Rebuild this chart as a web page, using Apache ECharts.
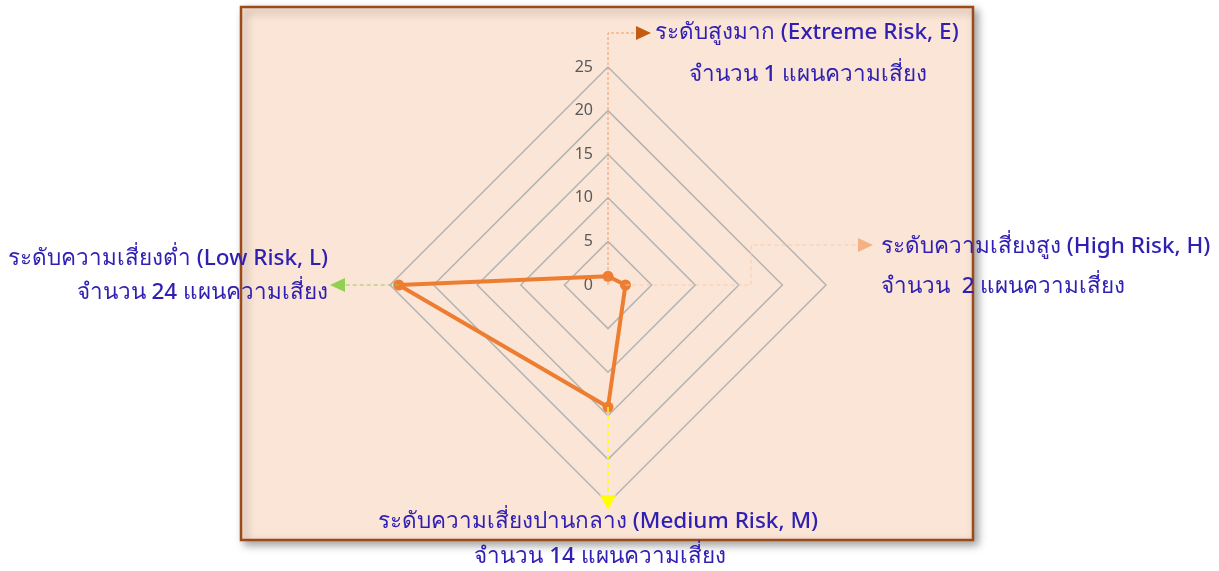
<!DOCTYPE html>
<html>
<head>
<meta charset="utf-8">
<script src="https://cdn.jsdelivr.net/npm/echarts@6/dist/echarts.min.js"></script>
<style>
html,body{margin:0;padding:0;background:#fff;}
#c{width:1219px;height:571px;}
</style>
</head>
<body>
<div id="c"></div>
<script>
// Data
const indicatorNames = ['ระดับสูงมาก (Extreme Risk, E)', 'ระดับความเสี่ยงต่ำ (Low Risk, L)', 'ระดับความเสี่ยงปานกลาง (Medium Risk, M)', 'ระดับความเสี่ยงสูง (High Risk, H)'];
const countLabels = ['จำนวน 1 แผนความเสี่ยง', 'จำนวน 24 แผนความเสี่ยง', 'จำนวน 14 แผนความเสี่ยง', 'จำนวน  2 แผนความเสี่ยง'];
const riskValues = [1, 24, 14, 2];
const axisMax = 25;
const axisSplits = 5;

const CX = 608, CY = 285, R = 218;
const TXT = '#2F1FB3';
const FONT = '"Noto Sans", "DejaVu Sans", sans-serif';

function r(v){ return v / axisMax * R; }

const chart = echarts.init(document.getElementById('c'), null, {renderer: 'canvas'});

const tri = (pts, color) => ({type:'polygon', z: 50, shape:{points: pts}, style:{fill: color}});
const dline = (pts, color, w, dash) => ({type:'polyline', z: 50, shape:{points: pts}, style:{stroke: color, lineWidth: w, lineDash: dash, fill: null}});
const txt = (x, y, s, align) => ({type:'text', z: 50, x: x, y: y, style:{text: s, fill: TXT, font: '500 22.5px ' + FONT, align: align, verticalAlign: 'middle'}});

// anchor points computed from values
const pE = [CX, CY - r(riskValues[0])];
const pL = [CX - r(riskValues[1]), CY];
const pM = [CX, CY + r(riskValues[2])];
const pH = [CX + r(riskValues[3]), CY];

const option = {
  backgroundColor: '#ffffff',
  graphic: [
    {type:'rect', z: -100, shape:{x:241, y:7, width:732, height:533},
     style:{fill:'#FBE5D6', stroke:'#9C4A1A', lineWidth:2.5, shadowBlur:8, shadowOffsetX:4, shadowOffsetY:4, shadowColor:'rgba(0,0,0,0.35)'}},
    // Extreme
    dline([[CX, CY], [CX, 33], [636, 33]], '#F08A4B', 0.8, [3, 2]),
    tri([[636, 26], [651, 33], [636, 40]], '#C55A11'),
    txt(655, 33, indicatorNames[0], 'left'),
    txt(808, 75, countLabels[0], 'center'),
    // High
    dline([pH, [751, pH[1]], [751, 245], [858, 245]], '#F8CBAD', 1, [4, 3]),
    tri([[858, 238], [873, 245], [858, 252]], '#F4B183'),
    txt(881, 247, indicatorNames[3], 'left'),
    txt(881, 287, countLabels[3], 'left'),
    // Low
    dline([pL, [345, pL[1]]], '#92D050', 1.2, [4, 3]),
    tri([[345, pL[1] - 7], [330, pL[1]], [345, pL[1] + 7]], '#92D050'),
    txt(328, 259, indicatorNames[1], 'right'),
    txt(328, 293, countLabels[1], 'right'),
    // Medium
    dline([pM, [CX, 495]], '#FFFF00', 1.5, [5, 3]),
    tri([[600, 495], [616, 495], [CX, 510]], '#FFFF00'),
    txt(598, 522, indicatorNames[2], 'center'),
    txt(600, 557, countLabels[2], 'center')
  ],
  radar: {
    center: [CX, CY],
    radius: R,
    shape: 'polygon',
    startAngle: 90,
    splitNumber: axisSplits,
    indicator: indicatorNames.map((n, i) => ({
      name: n, min: 0, max: axisMax,
      axisLabel: i === 0 ? {show: true} : {show: false}
    })),
    axisName: {show: false},
    axisLine: {show: false},
    axisTick: {show: false},
    axisLabel: {show: true, color: '#595959', fontSize: 16, fontFamily: FONT, margin: 15, showMinLabel: true, showMaxLabel: true},
    splitLine: {lineStyle: {color: '#B4B4B4', width: 1.5}},
    splitArea: {show: false}
  },
  series: [{
    type: 'radar',
    z: 10,
    symbol: 'circle',
    symbolSize: 11,
    lineStyle: {color: '#ED7D31', width: 4},
    itemStyle: {color: '#ED7D31'},
    data: [{value: riskValues, name: 'risk'}]
  }]
};
chart.setOption(option);
</script>
</body>
</html>
